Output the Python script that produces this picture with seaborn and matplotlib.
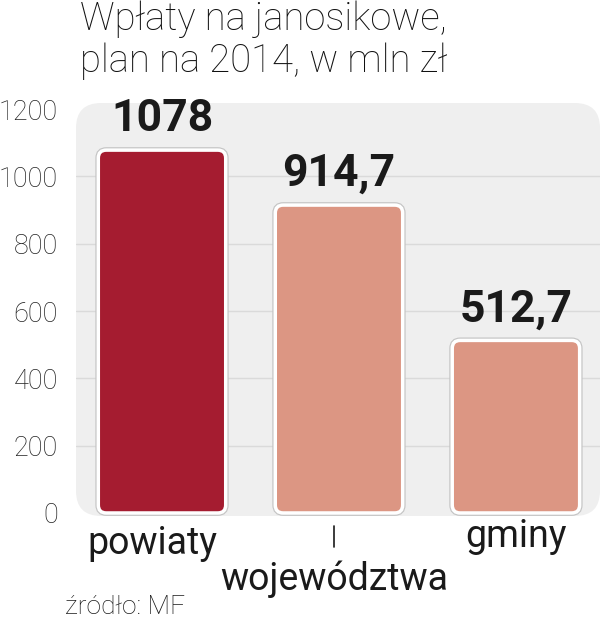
import matplotlib
matplotlib.use("Agg")
import matplotlib.pyplot as plt
import matplotlib.patheffects as pe
import matplotlib.transforms as mtransforms
from matplotlib.patches import FancyBboxPatch
import seaborn as sns
import pandas as pd

# ---- data ----
categories = ["powiaty", "województwa", "gminy"]
values = [1078, 914.7, 512.7]
bar_colors = ["#a51c30", "#dc9683", "#dc9683"]
yticks = [0, 200, 400, 600, 800, 1000, 1200]
title = "Wpłaty na janosikowe,\nplan na 2014, w mln zł"
source = "źródło: MF"

sns.set_theme(style="white")
FONT = ["Roboto", "DejaVu Sans"]
plt.rcParams["font.family"] = FONT

W, H = 603, 621
fig = plt.figure(figsize=(W / 100, H / 100), dpi=100)
fig.patch.set_facecolor("white")
L, R, T, B = 76, 600, 103, 516
ax = fig.add_axes([L / W, 1 - B / H, (R - L) / W, (B - T) / H])
ax.set_facecolor("none")

df = pd.DataFrame({"cat": categories, "val": values})
sns.barplot(data=df, x="cat", y="val", hue="cat", palette=bar_colors,
            saturation=1, width=0.72, legend=False, ax=ax, zorder=3)

ax.set_xlim(-0.486, 2.475)
ax.set_ylim(-9, 1218)

# rounded light-grey background panel
bg = FancyBboxPatch((0, 0), 1, 1, transform=ax.transAxes,
                    boxstyle="round,pad=0,rounding_size=0.048",
                    mutation_aspect=(R - L) / (B - T),
                    facecolor="#efefef", edgecolor="none", zorder=0,
                    clip_on=False)
ax.add_patch(bg)
for yv in yticks[1:-1]:
    ax.axhline(yv, color="#dadada", lw=1.0, zorder=1)

# replace bars with rounded versions
px_per_x = (R - L) / (2.475 + 0.486)
px_per_y = (B - T) / (1218 + 9)
aspect = px_per_x / px_per_y
for p in list(ax.patches):
    if p is bg:
        continue
    x, y = p.get_x(), p.get_y()
    w, h = p.get_width(), p.get_height()
    fc = p.get_facecolor()
    p.remove()
    nb = FancyBboxPatch((x, y), w, h,
                        boxstyle="round,pad=0,rounding_size=0.045",
                        mutation_aspect=aspect,
                        facecolor=fc, edgecolor="white", lw=2.5, zorder=3)
    nb.set_path_effects([pe.Stroke(linewidth=4.2, foreground="#c4c4c4"), pe.Normal()])
    ax.add_patch(nb)

# value labels
for i, v in enumerate(values):
    lab = f"{v:g}".replace(".", ",")
    ax.text(i, v + 30, lab, ha="center", va="bottom", fontsize=32,
            fontweight="bold", color="#1a1a1a", zorder=5)

# axes styling
ax.set_yticks(yticks)
ax.set_yticklabels([str(t) for t in yticks], fontweight="light",
                   fontsize=19.5, color="#222222")
ax.tick_params(axis="y", length=0, pad=13)
ax.set_xticks([])
ax.set_xlabel("")
ax.set_ylabel("")
for s in ax.spines.values():
    s.set_visible(False)

# category labels
blend = mtransforms.blended_transform_factory(ax.transData, ax.transAxes)
def ay(px):
    return (B - px) / (B - T)
xlab_pos = [(-0.056, 525), (-0.028, 561), (0.0, 518)]
for i, (cat, (dx, top)) in enumerate(zip(categories, xlab_pos)):
    ax.text(i + dx, ay(top), cat, transform=blend, ha="center", va="top",
            fontsize=27, color="#1a1a1a", clip_on=False)
# small leader mark above "województwa"
ax.plot([1 - 0.028, 1 - 0.028], [ay(526), ay(547)], transform=blend,
        color="#1a1a1a", lw=1.2, clip_on=False)

fig.text(80 / W, 1 - 1 / H, title, ha="left", va="top", fontsize=27.5,
         fontweight="light", color="#111111", linespacing=1.12)
fig.text(65 / W, 1 - 614 / H, source, ha="left", va="baseline", fontsize=19,
         fontweight="light", color="#1a1a1a")

fig.savefig("out.png", dpi=100)
